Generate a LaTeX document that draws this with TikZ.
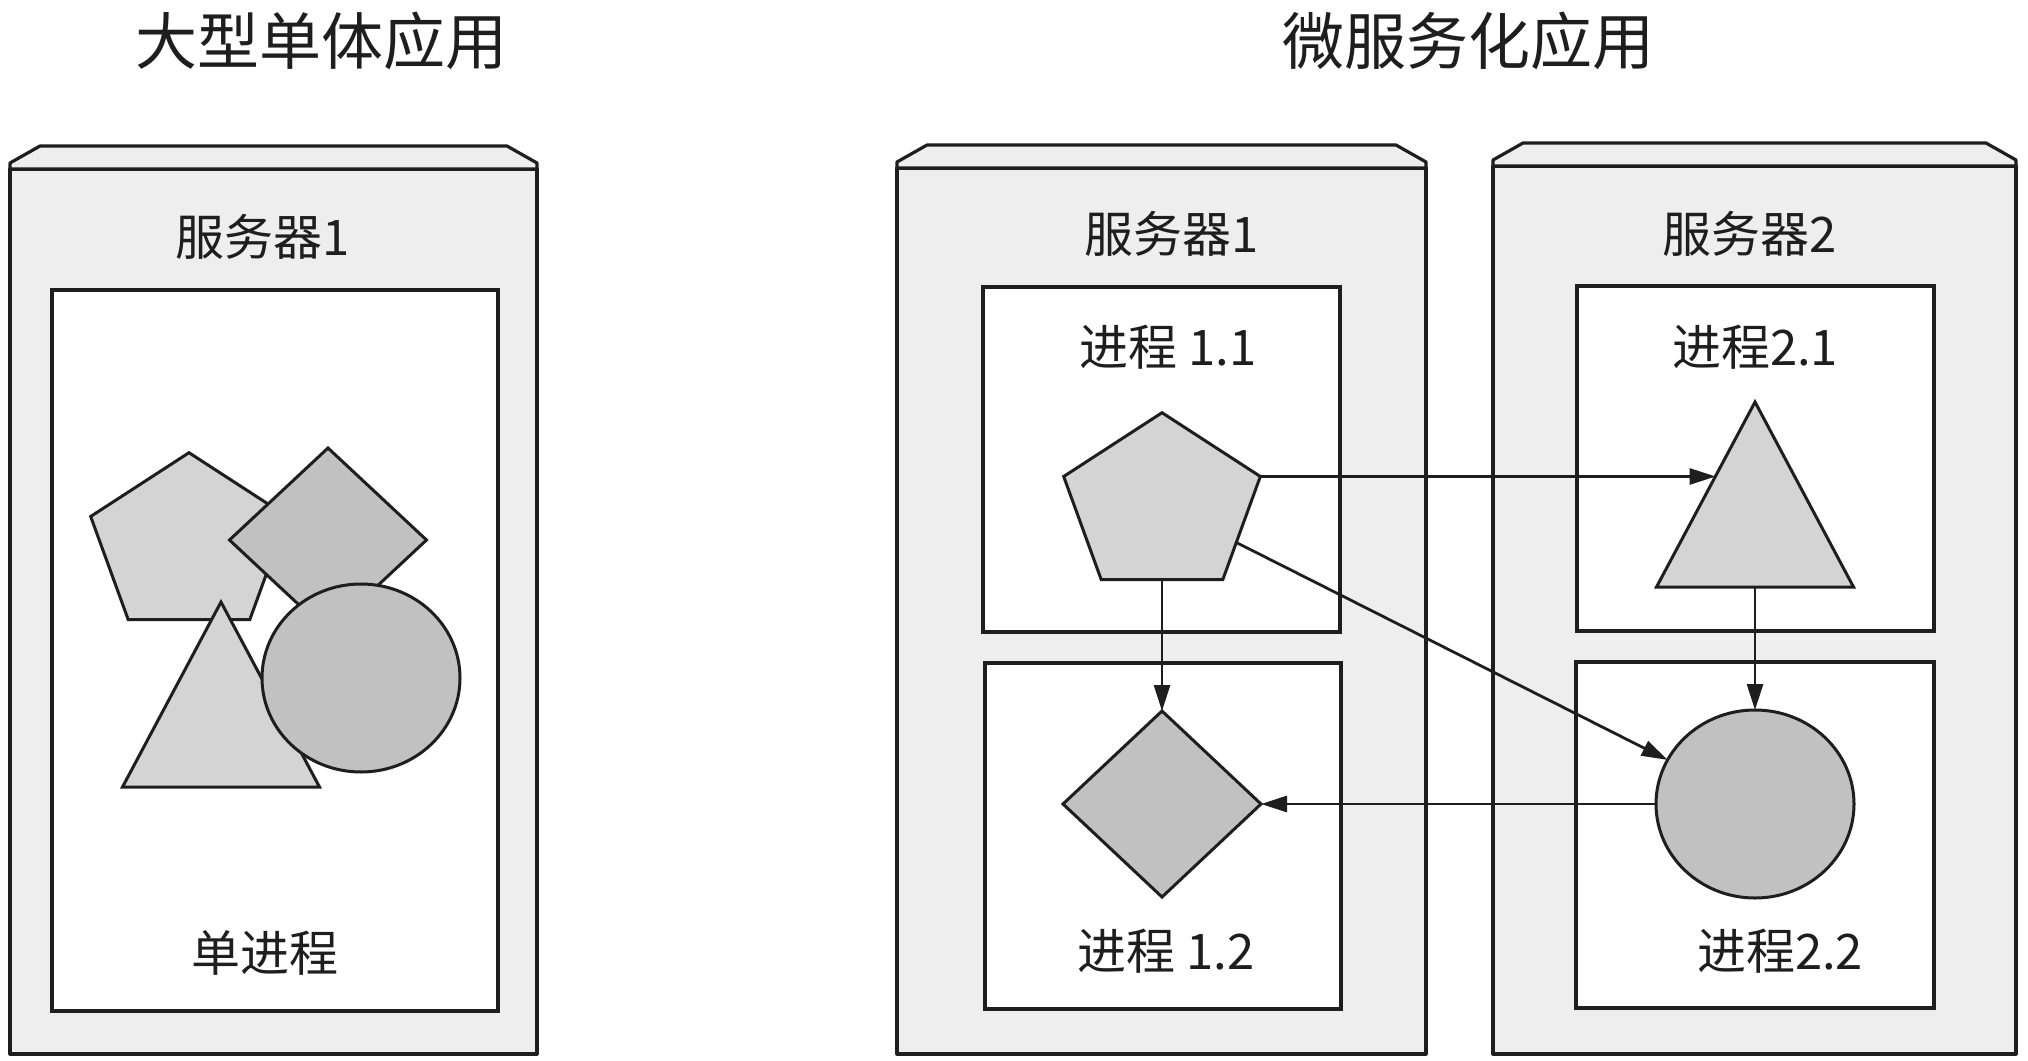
\documentclass[tikz,border=0pt]{standalone}
\usepackage{fontspec}
\newfontfamily\cjk{Noto Sans CJK SC}
\usetikzlibrary{shapes.geometric,arrows.meta,calc}
\definecolor{ink}{HTML}{1E1E1E}
\definecolor{serverfill}{HTML}{EEEEEE}
\definecolor{lightfill}{HTML}{D4D4D4}
\definecolor{darkfill}{HTML}{C1C1C1}
% sloped top edge of a server cabinet, drawn above its front face
\newcommand\cabinettop[1]{%
  \filldraw[serverline] (#1.north west) -- ++(0,-6) -- ++(30,-17)
    -- ($(#1.north east)+(-30,-23)$) -- ++(30,17) -- (#1.north east) -- cycle;}
\begin{document}
\begin{tikzpicture}[x=1pt,y=-1pt,
  serverline/.style={draw=ink, fill=serverfill, line width=3.2pt, line join=round},
  server/.style={serverline, rectangle, inner sep=0pt, outer sep=0pt},
  procbox/.style={draw=ink, fill=white, line width=3.2pt, rectangle, inner sep=0pt, outer sep=0pt},
  lightshape/.style={draw=ink, fill=lightfill, line width=3pt, inner sep=0pt, outer sep=0pt},
  darkshape/.style={draw=ink, fill=darkfill, line width=3pt, inner sep=0pt, outer sep=0pt},
  pentshape/.style={regular polygon, regular polygon sides=5, minimum size=184.6pt, transform shape},
  triholder/.style={rectangle, inner sep=0pt, outer sep=0pt, minimum width=197pt, minimum height=185pt},
  title/.style={font=\cjk\fontsize{62}{68}\selectfont, text=ink, inner sep=0pt},
  label/.style={font=\cjk\fontsize{49}{54}\selectfont, text=ink, inner sep=0pt},
  arr/.style={draw=ink, line width=2.8pt, -{Triangle[length=26pt,width=16pt]}}]

\useasboundingbox[fill=white] (0,0) rectangle (2028,1060);

% headings
\node[title] (t1) at (321,41) {大型单体应用};
\node[title] (t2) at (1468,41) {微服务化应用};

% ---------- monolith ----------
\node[server, minimum width=527pt, minimum height=885pt] (s0) at (273.5,611.5) {};
\cabinettop{s0}
\node[label] (s0l) at (263,237) {服务器1};
\node[procbox, minimum width=446pt, minimum height=721pt] (p0) at (275,650.5) {};
\node[label] (p0l) at (265,953) {单进程};

\begin{scope}[shift={(189,545)}, xscale=1.12]
  \node[lightshape, pentshape] (pentA) at (0,0) {};
\end{scope}
\node[darkshape, diamond, minimum width=197pt, minimum height=184pt] (diaA) at (328,540) {};
\node[triholder] (triA) at (221,694.5) {};
\filldraw[lightshape] (triA.north) -- (triA.south east) -- (triA.south west) -- cycle;
\node[darkshape, ellipse, minimum width=198pt, minimum height=188pt] (circA) at (361,678) {};

% ---------- microservices ----------
\node[server, minimum width=529pt, minimum height=886pt] (s1) at (1161.5,611) {};
\cabinettop{s1}
\node[label] (s1l) at (1172,234) {服务器1};
\node[server, minimum width=523pt, minimum height=888pt] (s2) at (1754.5,610) {};
\cabinettop{s2}
\node[label] (s2l) at (1750,234) {服务器2};

\node[procbox, minimum width=357pt, minimum height=345pt] (p11) at (1161.5,459.5) {};
\node[procbox, minimum width=356pt, minimum height=346pt] (p12) at (1163,836) {};
\node[procbox, minimum width=357pt, minimum height=345pt] (p21) at (1755.5,458.5) {};
\node[procbox, minimum width=358pt, minimum height=346pt] (p22) at (1755,835) {};
\node[label] (p11l) at (1168,347) {进程 1.1};
\node[label] (p21l) at (1755,347) {进程2.1};
\node[label] (p12l) at (1166,951) {进程 1.2};
\node[label] (p22l) at (1780,951) {进程2.2};

\begin{scope}[shift={(1162,505)}, xscale=1.12]
  \node[lightshape, pentshape] (pentB) at (0,0) {};
\end{scope}
\node[triholder] (triB) at (1755,494.5) {};
\filldraw[lightshape] (triB.north) -- (triB.south east) -- (triB.south west) -- cycle;
\node[darkshape, diamond, minimum width=198pt, minimum height=186pt] (diaB) at (1162,804) {};
\node[darkshape, ellipse, minimum width=198pt, minimum height=188pt] (circB) at (1755,804) {};

% calls between the services
\coordinate (triBhit) at ($(triB.north)!0.4!(triB.south west)$);
\draw[arr] (pentB.corner 5) -- (pentB.corner 5 -| triBhit);
\draw[arr] (pentB) -- (circB);
\draw[arr] (pentB) -- (diaB);
\draw[arr] (triB.south) -- (circB);
\draw[arr] (circB) -- (diaB);
\end{tikzpicture}
\end{document}
